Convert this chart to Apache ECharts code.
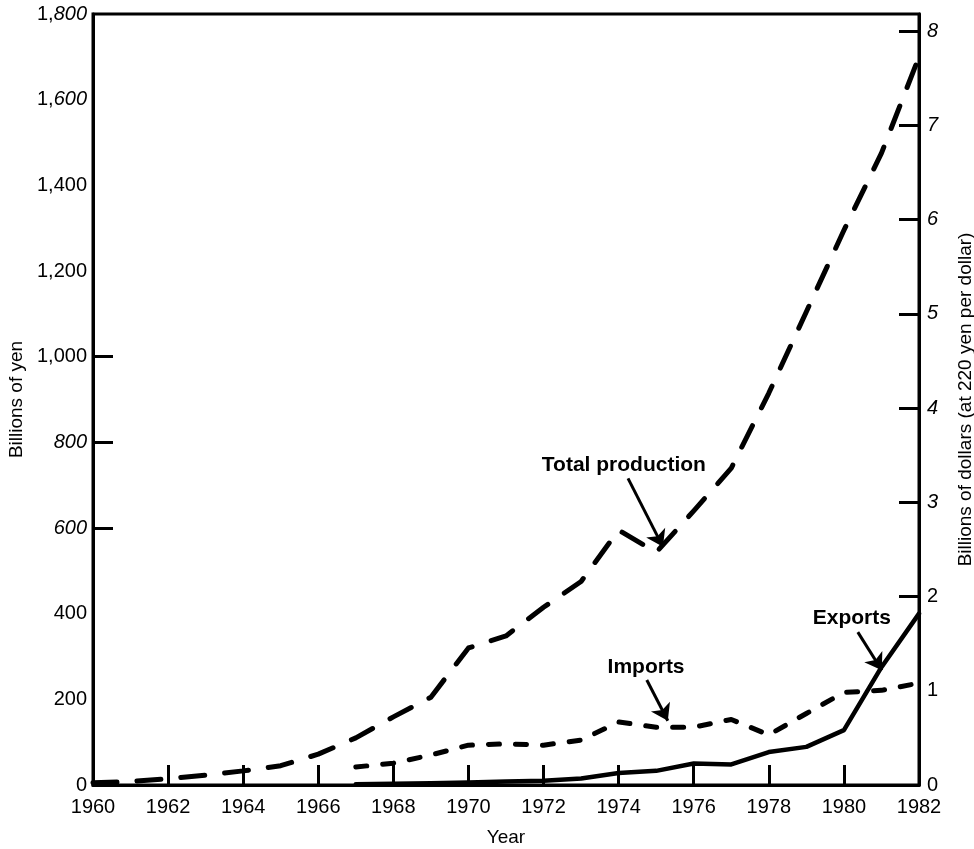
<!DOCTYPE html>
<html>
<head>
<meta charset="utf-8">
<script src="https://cdn.jsdelivr.net/npm/echarts@6/dist/echarts.min.js"></script>
<style>
html,body{margin:0;padding:0;background:#fff;}
#c{width:974px;height:849px;}
</style>
</head>
<body>
<div id="c"></div>
<script>
// ---- data (billions of yen) ----
const years = [1960,1961,1962,1963,1964,1965,1966,1967,1968,1969,1970,1971,1972,1973,1974,1975,1976,1977,1978,1979,1980,1981,1982];
const totalProduction = [5,8,15,23,33,45,72,110,159,205,320,348,415,475,595,543,640,740,915,1105,1295,1475,1700];
const imports = [null,null,null,null,null,null,null,42,51,70,93,96,93,105,147,135,135,153,117,167,216,221,238];
const exports = [null,null,null,null,null,null,null,2,3,4,6,8,10,15,28,33,50,48,77,89,128,275,400];
const yearTicks = [1960,1962,1964,1966,1968,1970,1972,1974,1976,1978,1980,1982];
const yenTicks = [0,200,400,600,800,1000,1200,1400,1600,1800];
const dollarTicks = [0,1,2,3,4,5,6,7,8];
const yenPerDollar = 220;

// annotation labels and arrows (in data coordinates: [year, billions of yen])
const annotations = [
  {text:'Total production', at:[1974.14, 746], from:[1974.25, 716], to:[1975.18, 556]},
  {text:'Imports', at:[1974.73, 275], from:[1974.75, 245], to:[1975.31, 150]},
  {text:'Exports', at:[1980.21, 389], from:[1980.37, 357], to:[1981.01, 268]}
];

const FONT = 'Liberation Sans, Arial, Helvetica, sans-serif';
const pair = arr => years.map((y,i) => [y, arr[i]]);
const italicYen = {1800:'1,{i|800}',1600:'1,{i|600}',800:'{i|800}',600:'{i|600}'};
const fmtYen = v => italicYen[v] || (v >= 1000 ? Math.floor(v/1000)+','+String(v%1000).padStart(3,'0') : String(v));

const chart = echarts.init(document.getElementById('c'), null, {renderer:'canvas'});
chart.setOption({
  animation:false,
  backgroundColor:'#fff',
  grid:{left:93, right:55, top:14, bottom:64, containLabel:false, outerBoundsMode:'none',
    show:true, borderColor:'#000', borderWidth:3, backgroundColor:'transparent'},
  xAxis:{
    type:'value', min:1960, max:1982, interval:2,
    name:'Year', nameLocation:'middle', nameGap:43,
    nameTextStyle:{fontFamily:FONT, fontSize:19, color:'#000'},
    axisLine:{show:true, lineStyle:{color:'#000', width:3}},
    axisTick:{show:true, inside:true, length:20, lineStyle:{color:'#000', width:3},
      customValues:[1962,1964,1966,1968,1970,1972,1974,1976,1978,1980]},
    axisLabel:{customValues:yearTicks, fontFamily:FONT, fontSize:20, color:'#000', margin:12, formatter:v=>String(v)},
    splitLine:{show:false}
  },
  yAxis:[
    {
      type:'value', min:0, max:1800, interval:200, position:'left',
      name:'Billions of yen', nameLocation:'middle', nameGap:64,
      nameTextStyle:{fontFamily:FONT, fontSize:19, color:'#000'},
      axisLine:{show:true, lineStyle:{color:'#000', width:3}},
      axisTick:{show:true, inside:true, length:20, lineStyle:{color:'#000', width:3}, customValues:[600,800,1000]},
      axisLabel:{customValues:yenTicks, fontFamily:FONT, fontSize:20, color:'#000', margin:6, formatter:fmtYen,
        rich:{i:{fontStyle:'italic', fontFamily:FONT, fontSize:20, color:'#000'}}},
      splitLine:{show:false}
    },
    {
      type:'value', min:0, max:1800/yenPerDollar, interval:1, position:'right',
      name:'Billions of dollars (at 220 yen per dollar)', nameLocation:'middle', nameGap:37,
      nameTextStyle:{fontFamily:FONT, fontSize:19, color:'#000'},
      axisLine:{show:true, lineStyle:{color:'#000', width:3}},
      axisTick:{show:true, inside:true, length:20, lineStyle:{color:'#000', width:3}, customValues:[2,3,4,5,6,7,8]},
      axisLabel:{customValues:dollarTicks, fontFamily:FONT, fontSize:20, color:'#000', margin:8,
        formatter:v => v >= 3 ? '{i|'+v+'}' : String(v),
        rich:{i:{fontStyle:'italic', fontFamily:FONT, fontSize:20, color:'#000'}}},
      splitLine:{show:false}
    }
  ],
  series:[
    {
      name:'Total production', type:'line', data:pair(totalProduction), showSymbol:false, symbol:'none',
      lineStyle:{color:'#000', width:5, type:[24,20], cap:'round', join:'round'},
      markLine:{
        silent:true, symbol:['none','arrow'], symbolSize:16,
        itemStyle:{color:'#000'},
        lineStyle:{color:'#000', width:3, type:'solid'}, label:{show:false},
        data:annotations.map(a => [{coord:a.from, symbol:'none'}, {coord:a.to, symbol:'arrow', symbolSize:16}])
      },
      markPoint:{
        silent:true, symbol:'rect', symbolSize:1, itemStyle:{color:'rgba(0,0,0,0)'},
        label:{show:true, position:'inside', fontFamily:FONT, fontWeight:'bold', fontSize:21, color:'#000'},
        data:annotations.map(a => ({coord:a.at, value:a.text, label:{formatter:a.text}}))
      }
    },
    {
      name:'Imports', type:'line', data:pair(imports), showSymbol:false, symbol:'none',
      lineStyle:{color:'#000', width:5, type:[11,16], cap:'round', join:'round'}
    },
    {
      name:'Exports', type:'line', data:pair(exports), showSymbol:false, symbol:'none',
      lineStyle:{color:'#000', width:4.5, type:'solid', cap:'round', join:'round'}
    }
  ]
});
</script>
</body>
</html>
